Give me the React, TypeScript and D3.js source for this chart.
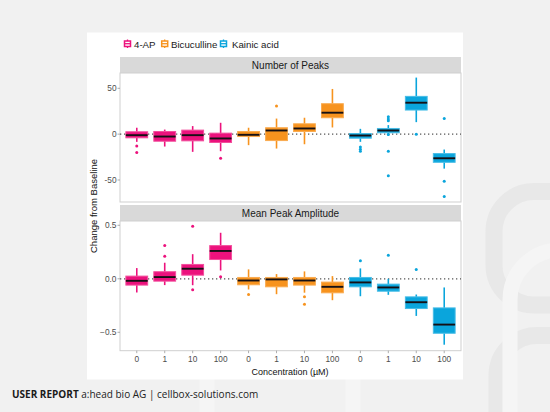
import React from "react";
import * as d3 from "d3";

const concentrations = ["0", "1", "10", "100"];
const compounds = ["4-AP", "Bicuculline", "Kainic acid"];
const compoundColors = ["#ec127d", "#f7931e", "#0aa5dc"];
const compoundStroke = ["#f24f9c", "#f9ab50", "#47bce6"];

// Number of Peaks
const peaksLow = [-8.4, -13.5, -19.3, -18.6, -12, -15.7, -11, 7.3, -8.4, -1.8, 13.1, -37.6];
const peaksQ1 = [-4, -7.7, -7.3, -9.1, -2.6, -7, 2.9, 17.9, -4.4, 1.5, 26.3, -30.7];
const peaksMedian = [-1.1, -2.6, -1.1, -4.7, -0.7, 4, 6.2, 23.4, -1.5, 4, 34.3, -26.3];
const peaksQ3 = [2.6, 2.9, 4.4, 1.1, 2.9, 7, 11.3, 33.2, 0.7, 6.2, 41.2, -21.2];
const peaksHigh = [7, 5, 8.8, 12.4, 7, 17, 17.9, 49.3, 5.8, 9.9, 61.7, -16.8];
const peaksOutliers = [[-12.8, -20], [], [], [-26.3], [], [30.7], [], [], [-13.9, -16.4, -18.6], [19, 16.4, 14.6, -0.4, -18.6, -45.3], [0], [17.2, -51.5, -67.9]];
const peaksTicks = [50, 0, -50];

// Mean Peak Amplitude
const ampLow = [-0.128, -0.059, -0.06, 0.078, -0.1, -0.144, -0.13, -0.2, -0.163, -0.15, -0.347, -0.616];
const ampQ1 = [-0.059, -0.022, 0.034, 0.18, -0.056, -0.075, -0.059, -0.131, -0.075, -0.116, -0.278, -0.509];
const ampMedian = [-0.019, 0.016, 0.094, 0.26, -0.016, -0.006, -0.016, -0.075, -0.034, -0.081, -0.219, -0.428];
const ampQ3 = [0.025, 0.066, 0.134, 0.31, 0.0125, 0.0125, 0.0125, -0.031, 0.0125, -0.05, -0.169, -0.272];
const ampHigh = [0.1, 0.15, 0.23, 0.43, 0.088, 0.044, 0.069, 0.025, 0.097, 0, -0.147, -0.081];
const ampOutliers = [[], [0.21, 0.31], [-0.103, 0.49], [0.019], [-0.147], [], [-0.169, -0.238], [], [0.169], [0.22], [0.0875], []];
const ampTicks = [0.5, 0, -0.5];

const W = 550, H = 412;
const PL = 120, PR = 461;
const FONT = "'Liberation Sans', Arial, sans-serif";

const xLabels = compounds.flatMap(() => concentrations);
const xScale = d3.scalePoint<number>().domain(d3.range(12)).range([PL, PR]).padding(0.6);
const step = xScale.step();
const boxW = step * 0.78;

type PanelProps = {
  title: string; stripTop: number; stripBottom: number; plotBottom: number;
  domain: [number, number]; ticks: number[]; fmt: (v: number) => string;
  low: number[]; q1: number[]; med: number[]; q3: number[]; high: number[]; out: number[][];
};

function Panel(p: PanelProps) {
  const y = d3.scaleLinear().domain(p.domain).range([p.plotBottom, p.stripBottom]);
  return (
    <g>
      <rect x={PL} y={p.stripTop} width={PR - PL} height={p.stripBottom - p.stripTop} fill="#d9d9d9" />
      <text x={(PL + PR) / 2} y={(p.stripTop + p.stripBottom) / 2 + 3.6} textAnchor="middle" fontSize={10} fill="#1a1a1a" fontFamily={FONT}>{p.title}</text>
      <rect x={PL} y={p.stripBottom} width={PR - PL} height={p.plotBottom - p.stripBottom} fill="#fff" stroke="#cfcfcf" strokeWidth={1} />
      <line x1={PL} x2={PR} y1={y(0)} y2={y(0)} stroke="#555" strokeWidth={1.2} strokeDasharray="1.3,2.7" />
      {p.ticks.map((t) => (
        <g key={t}>
          <line x1={PL - 2.5} x2={PL} y1={y(t)} y2={y(t)} stroke="#999" strokeWidth={0.8} />
          <text x={PL - 3.5} y={y(t) + 3} textAnchor="end" fontSize={8.3} fill="#4d4d4d" fontFamily={FONT}>{p.fmt(t)}</text>
        </g>
      ))}
      {d3.range(12).map((i) => {
        const cx = xScale(i)!;
        const c = compoundColors[Math.floor(i / 4)];
        const s = compoundStroke[Math.floor(i / 4)];
        return (
          <g key={i}>
            <line x1={cx} x2={cx} y1={y(p.high[i])} y2={y(p.q3[i])} stroke={c} strokeWidth={1.6} />
            <line x1={cx} x2={cx} y1={y(p.q1[i])} y2={y(p.low[i])} stroke={c} strokeWidth={1.6} />
            <rect x={cx - boxW / 2} y={y(p.q3[i])} width={boxW} height={y(p.q1[i]) - y(p.q3[i])} fill={c} stroke={s} strokeWidth={1} />
            <line x1={cx - boxW / 2} x2={cx + boxW / 2} y1={y(p.med[i])} y2={y(p.med[i])} stroke="#151015" strokeWidth={1.9} />
            {p.out[i].map((v, j) => (
              <circle key={j} cx={cx} cy={y(v)} r={1.5} fill={c} />
            ))}
          </g>
        );
      })}
    </g>
  );
}

export default function App() {
  const legendX = [124.5, 161.7, 220.5];
  const legendTextX = [134, 171, 232];
  return (
    <svg width={W} height={H} style={{ position: "absolute", left: 0, top: 0 }} xmlns="http://www.w3.org/2000/svg">
      <rect x={0} y={0} width={W} height={H} fill="#f1f1f1" />
      {/* decorative background shapes */}
      <rect x={494} y={191.5} width={140} height={113.5} rx={40} fill="none" stroke="#e8e8e8" strokeWidth={17} />
      <rect x={497} y={335.5} width={140} height={130} rx={40} fill="none" stroke="#e8e8e8" strokeWidth={17} />
      <rect x={207} y={250} width={146} height={250} rx={50} fill="none" stroke="#f5f5f5" strokeWidth={15} />
      <rect x={510} y={250} width={140} height={250} rx={50} fill="none" stroke="#f5f5f5" strokeWidth={15} />
      <rect x={87} y={32.5} width={376} height={347} fill="#fff" />
      {/* legend */}
      {compounds.map((name, k) => (
        <g key={name}>
          <line x1={legendX[k] + 3} x2={legendX[k] + 3} y1={39.5} y2={48} stroke={compoundColors[k]} strokeWidth={1.3} />
          <rect x={legendX[k]} y={41} width={6} height={5.5} fill="#fff" stroke={compoundColors[k]} strokeWidth={1.5} />
          <line x1={legendX[k]} x2={legendX[k] + 6} y1={43.7} y2={43.7} stroke={compoundColors[k]} strokeWidth={1.3} />
          <text x={legendTextX[k]} y={47.5} fontSize={9.7} fill="#1a1a1a" fontFamily={FONT}>{name}</text>
        </g>
      ))}
      <Panel title="Number of Peaks" stripTop={57} stripBottom={73} plotBottom={202}
        domain={[-74, 66.7]} ticks={peaksTicks} fmt={(v) => String(v)}
        low={peaksLow} q1={peaksQ1} med={peaksMedian} q3={peaksQ3} high={peaksHigh} out={peaksOutliers} />
      <Panel title="Mean Peak Amplitude" stripTop={205} stripBottom={221} plotBottom={350.7}
        domain={[-0.672, 0.54]} ticks={ampTicks} fmt={(v) => d3.format(".1f")(v)}
        low={ampLow} q1={ampQ1} med={ampMedian} q3={ampQ3} high={ampHigh} out={ampOutliers} />
      {/* x axis */}
      {xLabels.map((lab, i) => (
        <g key={i}>
          <line x1={xScale(i)!} x2={xScale(i)!} y1={350.7} y2={353.2} stroke="#999" strokeWidth={0.8} />
          <text x={xScale(i)!} y={361.5} textAnchor="middle" fontSize={8.3} fill="#4d4d4d" fontFamily={FONT}>{lab}</text>
        </g>
      ))}
      <text x={290} y={375} textAnchor="middle" fontSize={9} fill="#111" fontFamily={FONT}>Concentration (µM)</text>
      <text transform="translate(97,206) rotate(-90)" textAnchor="middle" fontSize={9.5} fill="#111" fontFamily={FONT}>Change from Baseline</text>
      {/* footer */}
      <text x={12} y={398} fontSize={10} fill="#222" fontFamily="'Open Sans', sans-serif">
        <tspan fontWeight="bold" fill="#1a1a1a">USER REPORT</tspan>
        <tspan> a:head bio AG | cellbox-solutions.com</tspan>
      </text>
    </svg>
  );
}
